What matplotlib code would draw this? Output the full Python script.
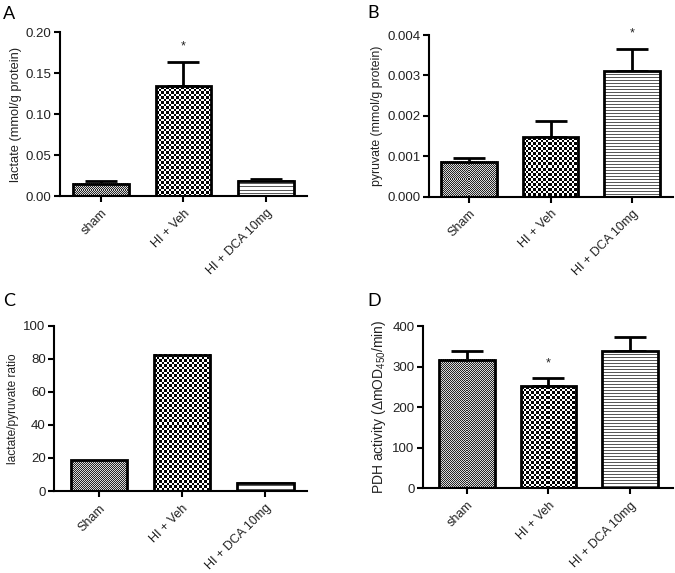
import numpy as np
import matplotlib
matplotlib.use("Agg")
import matplotlib.pyplot as plt

plt.rcParams['font.family'] = 'Liberation Sans'
plt.rcParams['mathtext.default'] = 'regular'

# data
groups_a = ['sham', 'HI + Veh', 'HI + DCA 10mg']
groups_b = ['Sham', 'HI + Veh', 'HI + DCA 10mg']
lactate = [0.015, 0.134, 0.0183]
lactate_err = [0.003, 0.030, 0.0024]
pyruvate = [0.000866, 0.00147, 0.00311]
pyruvate_err = [0.00008, 0.0004, 0.00054]
ratio = [18.6, 82.6, 5.0]
pdh = [317, 251, 337.6]
pdh_err = [22, 20, 35]

patterns = ['fine', 'checker', 'lines']


def pattern_image(w, h, kind):
    yy, xx = np.mgrid[0:h, 0:w]
    if kind == 'fine':
        img = np.where((xx + yy) % 2 == 0, 0.15, 0.85)
    elif kind == 'checker':
        img = np.where((xx * 2 // 5 + yy * 2 // 5) % 2 == 0, 0.0, 1.0)
    else:
        img = np.where(yy % 3 == 0, 0.35, 1.0)
    return img


def draw_panel(ax, labels, vals, errs, xlim, ylim, yticks, fmt, ylabel, ylfs, star=None):
    x = np.arange(len(vals))
    ax.set_xlim(*xlim)
    ax.set_ylim(*ylim)
    bars = ax.bar(x, vals, width=0.68, facecolor='none', edgecolor='black',
                  linewidth=2, zorder=3)
    for bar, kind in zip(bars, patterns):
        x0, y0 = bar.get_x(), bar.get_y()
        x1, y1 = x0 + bar.get_width(), y0 + bar.get_height()
        p = ax.transData.transform([(x0, y0), (x1, y1)])
        w = max(int(round(abs(p[1, 0] - p[0, 0]))), 1)
        h = max(int(round(abs(p[1, 1] - p[0, 1]))), 1)
        ax.imshow(pattern_image(w, h, kind), extent=(x0, x1, y0, y1), cmap='gray',
                  vmin=0, vmax=1, interpolation='nearest', aspect='auto', zorder=2)
    if errs is not None:
        ax.errorbar(x, vals, yerr=[np.zeros(len(vals)), errs], fmt='none',
                    ecolor='black', elinewidth=2, capsize=11.5, capthick=2, zorder=1)
    ax.set_xlim(*xlim)
    ax.set_ylim(*ylim)
    ax.set_yticks(yticks)
    ax.set_yticklabels([fmt % t for t in yticks], fontsize=9.5, color='#222222')
    ax.set_xticks(x)
    ax.set_xticklabels(labels, rotation=45, ha='right', rotation_mode='anchor',
                       fontsize=9, color='#222222')
    ax.tick_params(axis='both', direction='out', length=4, width=1.5)
    ax.tick_params(axis='y', pad=2)
    ax.tick_params(axis='x', pad=4)
    for s in ['top', 'right']:
        ax.spines[s].set_visible(False)
    for s in ['left', 'bottom']:
        ax.spines[s].set_linewidth(1.5)
    ax.set_ylabel(ylabel, fontsize=ylfs, color='#222222', labelpad=3)
    if star is not None:
        ax.text(star[0], star[1], '*', ha='center', va='center', fontsize=9,
                color='#222222', clip_on=False)


fig = plt.figure(figsize=(6.75, 5.73), dpi=100)

ax_a = fig.add_axes([0.0889, 0.6579, 0.3659, 0.2862])
draw_panel(ax_a, groups_a, lactate, lactate_err, (-0.5, 2.5), (0, 0.2),
           [0, 0.05, 0.10, 0.15, 0.20], '%.2f', 'lactate (mmol/g protein)', 9.3,
           star=(1, 0.182))

ax_b = fig.add_axes([0.6356, 0.6567, 0.3615, 0.2822])
draw_panel(ax_b, groups_b, pyruvate, pyruvate_err, (-0.49, 2.5), (0, 0.004),
           [0, 0.001, 0.002, 0.003, 0.004], '%.3f', 'pyruvate (mmol/g protein)', 8.8,
           star=(2, 0.00403))

ax_c = fig.add_axes([0.08, 0.1431, 0.3748, 0.288])
draw_panel(ax_c, groups_b, ratio, None, (-0.54, 2.5), (0, 100),
           [0, 20, 40, 60, 80, 100], '%d', 'lactate/pyruvate ratio', 8.6)

ax_d = fig.add_axes([0.6267, 0.1478, 0.3704, 0.2832])
draw_panel(ax_d, groups_a, pdh, pdh_err, (-0.54, 2.53), (0, 400),
           [0, 100, 200, 300, 400], '%d', 'PDH activity (ΔmOD$_{450}$/min)', 10,
           star=(1, 307))

for lbl, (fx, fy) in zip('ABCD', [(3, 6), (367, 5), (3, 293), (367, 293)]):
    fig.text(fx / 675, 1 - fy / 573, lbl, fontsize=13, family='Lato',
             ha='left', va='top')

plt.savefig('out.png', dpi=100)
